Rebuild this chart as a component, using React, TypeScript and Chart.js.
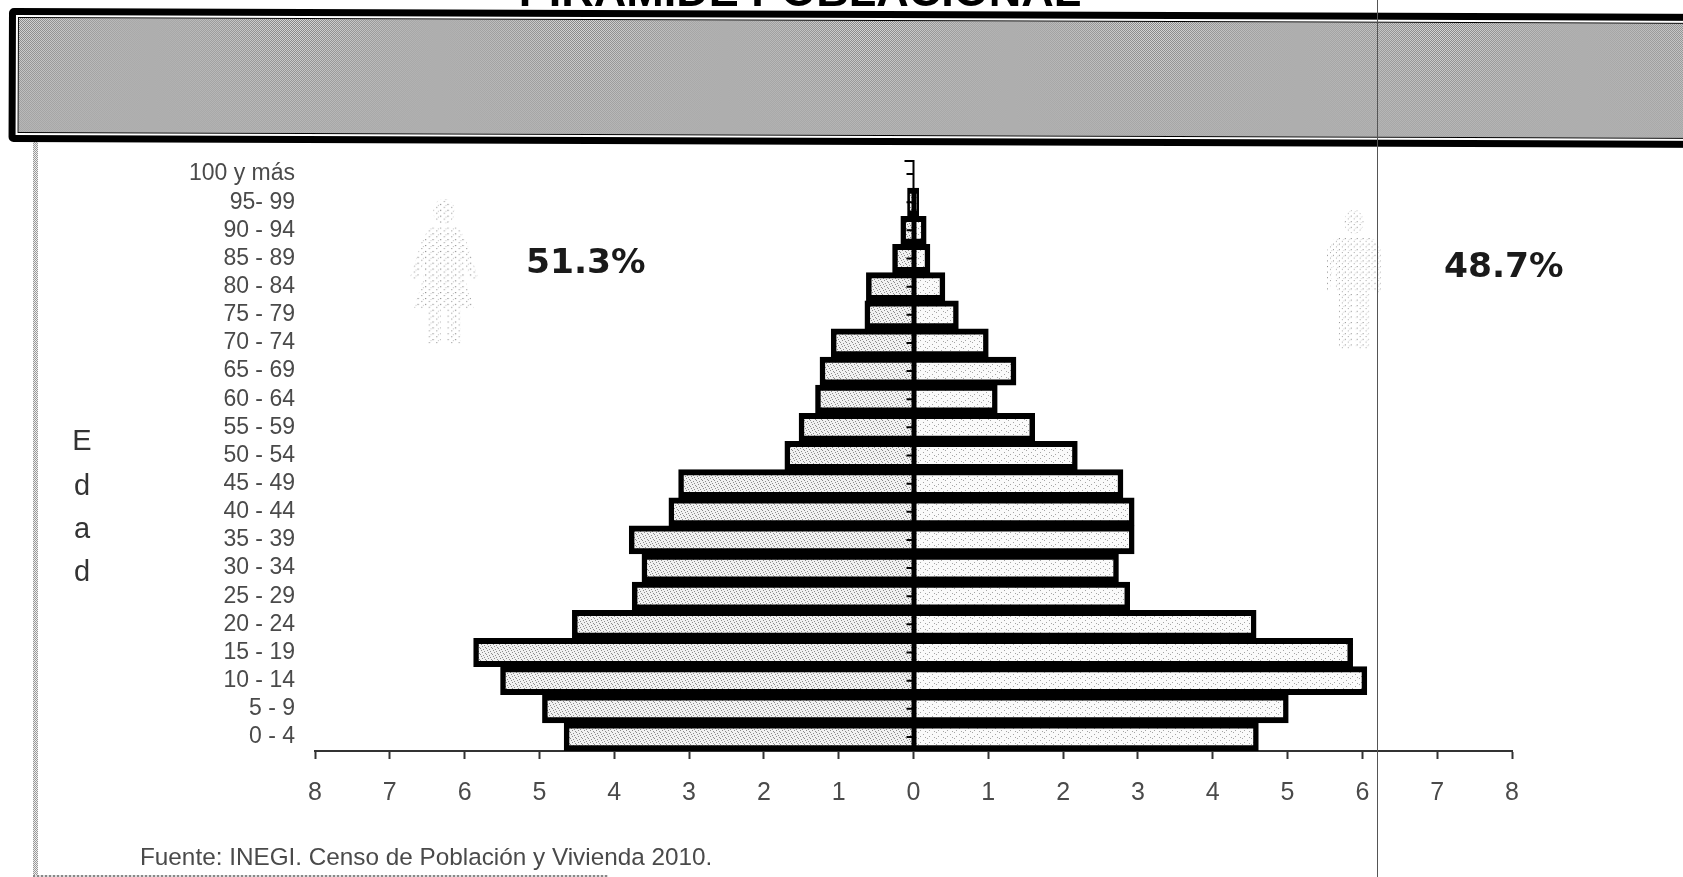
import React, { useEffect, useRef } from "react";
import { Chart, registerables } from "chart.js";

Chart.register(...registerables);

const ageGroups = ["100 y más","95- 99","90 - 94","85 - 89","80 - 84","75 - 79","70 - 74","65 - 69","60 - 64","55 - 59","50 - 54","45 - 49","40 - 44","35 - 39","30 - 34","25 - 29","20 - 24","15 - 19","10 - 14","5 - 9","0 - 4"];
const mujeres = [0,0.08,0.17,0.28,0.63,0.65,1.10,1.25,1.31,1.53,1.72,3.14,3.27,3.80,3.63,3.76,4.56,5.88,5.52,4.96,4.67];
const hombres = [0,0.07,0.17,0.22,0.42,0.60,1.00,1.37,1.12,1.62,2.19,2.80,2.95,2.95,2.74,2.89,4.58,5.87,6.06,5.01,4.61];

const FONT = '"Liberation Sans", Arial, sans-serif';
const TEXT = "#4a4a4a";

function stipple(bg: string, dot: string, pts: number[][], w: number, h: number) {
  const c = document.createElement("canvas");
  c.width = w; c.height = h;
  const g = c.getContext("2d")!;
  g.fillStyle = bg; g.fillRect(0, 0, w, h);
  g.fillStyle = dot;
  pts.forEach(([x, y]) => g.fillRect(x, y, 1, 1));
  return g.createPattern(c, "repeat")!;
}

const centerLine = {
  id: "centerLine",
  afterDatasetsDraw(chart: any) {
    const { ctx, scales: { x, y }, chartArea } = chart;
    const x0 = x.getPixelForValue(0);
    const band = y.getPixelForValue(1) - y.getPixelForValue(0);
    ctx.save();
    ctx.strokeStyle = "#000";
    ctx.lineWidth = 2;
    ctx.beginPath();
    ctx.moveTo(x0, chartArea.top);
    ctx.lineTo(x0, chartArea.bottom);
    ctx.moveTo(x0 - 9, chartArea.top + 1);
    ctx.lineTo(x0, chartArea.top + 1);
    ageGroups.forEach((_, i) => {
      const p = y.getPixelForValue(i);
      ctx.moveTo(x0 - 7, p);
      ctx.lineTo(x0, p);
    });
    ctx.stroke();
    ctx.lineWidth = 5;
    ctx.beginPath();
    ctx.moveTo(x0 + 0.5, y.getPixelForValue(1) - band / 2);
    ctx.lineTo(x0 + 0.5, chartArea.bottom);
    ctx.stroke();
    ctx.restore();
  },
};

const abs: React.CSSProperties = { position: "absolute" };

function Figure({ left, top, width, height, id, children }: any) {
  return (
    <svg style={{ ...abs, left, top }} width={width} height={height} viewBox="0 0 100 200" preserveAspectRatio="none">
      <defs>
        <pattern id={id} width="11" height="8" patternUnits="userSpaceOnUse">
          <rect x="0" y="0" width="1.8" height="1.5" fill="#8a8a8a" />
          <rect x="5.5" y="4" width="1.8" height="1.5" fill="#a8a8a8" />
          <rect x="8" y="1.5" width="1.6" height="1.3" fill="#c4c4c4" />
        </pattern>
      </defs>
      <g fill={`url(#${id})`}>{children}</g>
    </svg>
  );
}

export default function App() {
  const ref = useRef<HTMLCanvasElement>(null);
  useEffect(() => {
    const fillF = stipple("#f1f1f1", "#8c8c8c", [[0,0],[3,1],[1,2],[4,3],[2,4],[5,5]], 6, 6);
    const fillM = stipple("#fafafa", "#a5a5a5", [[0,0],[5,2],[2,4],[7,5]], 9, 6);
    const common = {
      borderColor: "#000",
      borderWidth: { top: 6, bottom: 6, left: 5.5, right: 5.5 },
      borderSkipped: "start",
      categoryPercentage: 1,
      barPercentage: 1,
    };
    const chart = new Chart(ref.current!, {
      type: "bar",
      plugins: [centerLine],
      data: {
        labels: ageGroups,
        datasets: [
          { label: "Mujeres", data: mujeres.map((v) => -v), backgroundColor: fillF, ...common },
          { label: "Hombres", data: hombres, backgroundColor: fillM, ...common },
        ],
      } as any,
      options: {
        indexAxis: "y",
        responsive: false,
        animation: false,
        layout: { padding: { top: 160, right: 171, left: 0, bottom: 0 } },
        plugins: { legend: { display: false }, title: { display: false }, tooltip: { enabled: false } },
        scales: {
          x: {
            stacked: true,
            min: -8,
            max: 8,
            afterFit: (s: any) => { s.height = 126; },
            border: { display: true, color: "#333", width: 2 },
            grid: { drawOnChartArea: false, drawTicks: true, tickLength: 8, tickColor: "#333", tickWidth: 2 },
            ticks: {
              stepSize: 1, maxRotation: 0, padding: 19, color: TEXT,
              font: { family: FONT, size: 25 },
              callback: (v: any) => String(Math.abs(Number(v))),
            },
          },
          y: {
            stacked: true,
            afterFit: (s: any) => { s.width = 315; },
            border: { display: false },
            grid: { display: false, drawTicks: false },
            ticks: { autoSkip: false, padding: 20, color: TEXT, font: { family: FONT, size: 23 } },
          },
        },
      } as any,
    });
    return () => chart.destroy();
  }, []);

  return (
    <div style={{ position: "fixed", inset: 0, background: "#fff", overflow: "hidden" }}>
      <canvas ref={ref} width={1683} height={877} style={{ ...abs, left: 0, top: 0, display: "block" }} />

      {/* marco de página */}
      <div style={{ ...abs, left: 33, top: 142, width: 5, height: 735, background: "repeating-conic-gradient(#999 0 25%, #eee 0 50%) 0 0 / 2px 2px" }} />
      <div style={{ ...abs, left: 33, top: 875, width: 575, height: 2, background: "repeating-linear-gradient(90deg,#888 0 2px,#ddd 2px 4px)" }} />

      {/* título y banda */}
      <div style={{ ...abs, left: 500, top: -32, width: 600, textAlign: "center", fontFamily: FONT, fontWeight: 700, fontSize: 45, lineHeight: "46px", color: "#000", whiteSpace: "nowrap" }}>PIRAMIDE POBLACIONAL</div>
      <div style={{ ...abs, left: 9, top: 8, width: 1720, height: 134, boxSizing: "border-box", border: "7px solid #000", borderRadius: 5, background: "#fff", padding: 2, transform: "rotate(0.2deg)", transformOrigin: "0 0" }}>
        <div style={{ width: "100%", height: "100%", boxSizing: "border-box", border: "1px solid #000", background: "repeating-conic-gradient(#808080 0 25%, #dcdcdc 0 50%) 0 0 / 2px 2px" }} />
      </div>

      {/* siluetas */}
      <Figure id="pf" left={410} top={198} width={68} height={147}>
        <ellipse cx="50" cy="18" rx="16" ry="17" />
        <path d="M28 40 H72 L84 62 L100 108 L90 112 L78 84 L80 108 L94 150 H6 L20 108 L22 84 L10 112 L0 108 L16 62 Z" />
        <rect x="26" y="150" width="19" height="50" />
        <rect x="55" y="150" width="19" height="50" />
      </Figure>
      <Figure id="pm" left={1327} top={210} width={54} height={140}>
        <ellipse cx="50" cy="17" rx="18" ry="17" />
        <path d="M14 40 H86 L100 58 V120 H88 L84 76 V115 H16 L12 76 L4 120 H0 V58 Z" />
        <rect x="22" y="115" width="25" height="85" />
        <rect x="53" y="115" width="25" height="85" />
      </Figure>

      {/* porcentajes */}
      <div style={{ ...abs, left: 526, top: 241, fontFamily: '"DejaVu Sans", sans-serif', fontWeight: 700, fontSize: 34.5, lineHeight: "40px", color: "#1a1a1a" }}>51.3%</div>
      <div style={{ ...abs, left: 1444, top: 245, fontFamily: '"DejaVu Sans", sans-serif', fontWeight: 700, fontSize: 34.5, lineHeight: "40px", color: "#1a1a1a" }}>48.7%</div>

      {/* título del eje vertical */}
      {[["E", 440], ["d", 485], ["a", 528], ["d", 571]].map(([t, y], i) => (
        <div key={i} style={{ ...abs, left: 62, width: 40, top: (y as number) - 18, textAlign: "center", fontFamily: FONT, fontSize: 29, lineHeight: "36px", color: "#333" }}>{t}</div>
      ))}

      {/* fuente */}
      <div style={{ ...abs, left: 140, top: 843, fontFamily: FONT, fontSize: 24.3, lineHeight: "28px", color: TEXT, whiteSpace: "nowrap" }}>Fuente: INEGI. Censo de Población y Vivienda 2010.</div>

      {/* línea vertical de escaneo */}
      <div style={{ ...abs, left: 1377, top: 0, width: 1, height: 877, background: "#555" }} />
    </div>
  );
}
